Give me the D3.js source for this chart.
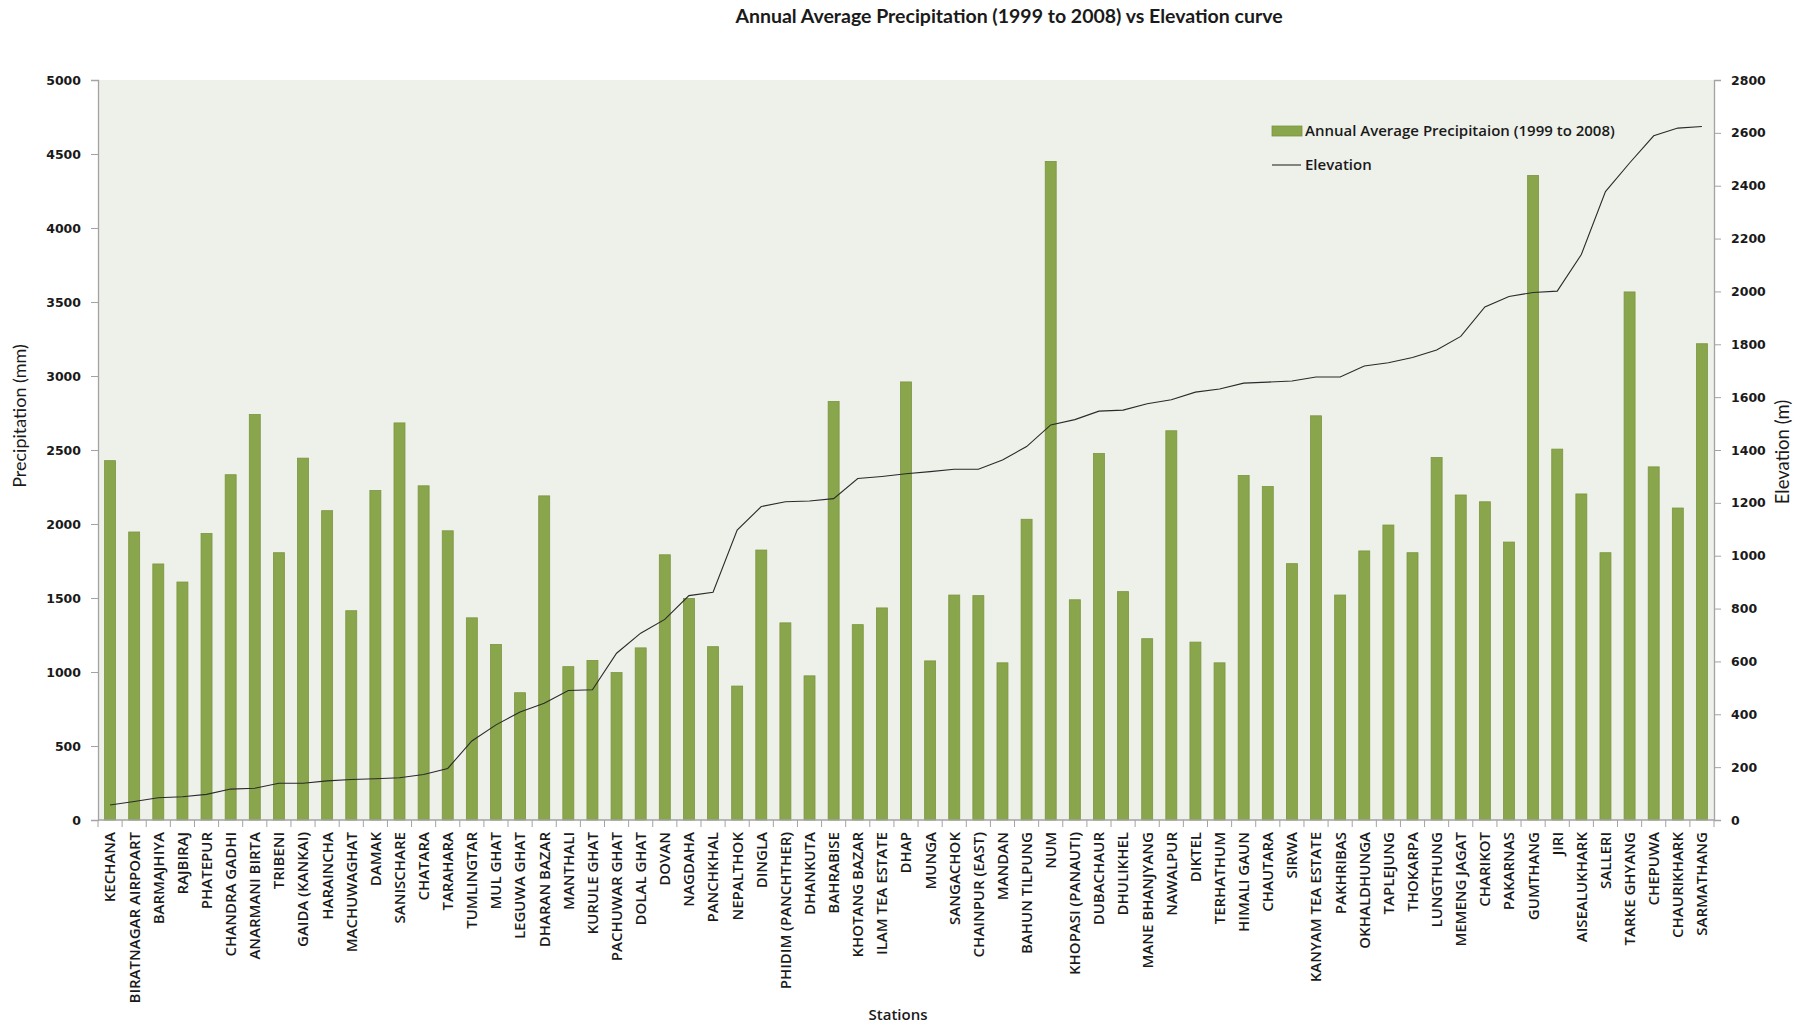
<!DOCTYPE html>
<html>
<head>
<meta charset="utf-8">
<script src="https://cdn.jsdelivr.net/npm/d3@7/dist/d3.min.js"></script>
<style>
  html, body { margin: 0; padding: 0; background: #ffffff; }
  svg { display: block; }
</style>
</head>
<body>
<svg id="chart" width="1806" height="1025"></svg>
<script>
// Stations ordered by elevation (low to high)
const stations = [
  "KECHANA", "BIRATNAGAR  AIRPOART", "BARMAJHIYA", "RAJBIRAJ", "PHATEPUR",
  "CHANDRA GADHI", "ANARMANI BIRTA", "TRIBENI", "GAIDA (KANKAI)", "HARAINCHA",
  "MACHUWAGHAT", "DAMAK", "SANISCHARE", "CHATARA", "TARAHARA",
  "TUMLINGTAR", "MUL GHAT", "LEGUWA GHAT", "DHARAN BAZAR", "MANTHALI",
  "KURULE GHAT", "PACHUWAR GHAT", "DOLAL GHAT", "DOVAN", "NAGDAHA",
  "PANCHKHAL", "NEPALTHOK", "DINGLA", "PHIDIM (PANCHTHER)", "DHANKUTA",
  "BAHRABISE", "KHOTANG BAZAR", "ILAM TEA ESTATE", "DHAP", "MUNGA",
  "SANGACHOK", "CHAINPUR (EAST)", "MANDAN", "BAHUN TILPUNG", "NUM",
  "KHOPASI (PANAUTI)", "DUBACHAUR", "DHULIKHEL", "MANE BHANJYANG", "NAWALPUR",
  "DIKTEL", "TERHATHUM", "HIMALI GAUN", "CHAUTARA", "SIRWA",
  "KANYAM TEA ESTATE", "PAKHRIBAS", "OKHALDHUNGA", "TAPLEJUNG", "THOKARPA",
  "LUNGTHUNG", "MEMENG JAGAT", "CHARIKOT", "PAKARNAS", "GUMTHANG",
  "JIRI", "AISEALUKHARK", "SALLERI", "TARKE GHYANG", "CHEPUWA",
  "CHAURIKHARK", "SARMATHANG"
];

// Annual average precipitation 1999-2008 (mm)
const precipitation = [
  2428, 1946, 1730, 1608, 1936,
  2333, 2740, 1806, 2445, 2090,
  1414, 2226, 2683, 2258, 1954,
  1366, 1186, 860, 2190, 1036,
  1078, 996, 1163, 1792, 1497,
  1171, 905, 1824, 1332, 974,
  2828, 1320, 1433, 2960, 1075,
  1520, 1516, 1062, 2032, 4450,
  1488, 2477, 1543, 1225, 2630,
  1202, 1062, 2328, 2253, 1732,
  2731, 1520, 1818, 1993, 1806,
  2449, 2196, 2150, 1878, 4355,
  2506, 2203, 1806, 3568, 2386,
  2108, 3218
];

// Station elevation (m)
const elevation = [
  57, 70, 84, 88, 97,
  117, 120, 139, 139, 148,
  153, 156, 160, 172, 195,
  299, 360, 409, 442, 490,
  493, 631, 707, 759, 849,
  862, 1097, 1186, 1204, 1207,
  1216, 1292, 1300, 1310, 1318,
  1327, 1327, 1362, 1413, 1495,
  1515, 1547, 1551, 1575, 1590,
  1619, 1631, 1653, 1657, 1661,
  1676, 1676, 1718, 1730, 1750,
  1778, 1830, 1941, 1981, 1996,
  2001, 2140, 2378, 2486, 2589,
  2618, 2624
];

const precipTicks = d3.range(0, 5001, 500);
const elevTicks = d3.range(0, 2801, 200);

const titleText = "Annual Average Precipitation (1999 to 2008) vs Elevation curve";
const precipLabel = "Annual Average Precipitaion (1999 to 2008)";
const elevLabel = "Elevation";

const svg = d3.select("#chart");
const plot = { left: 98, right: 1714, top: 80, bottom: 820 };

const x = d3.scaleBand()
  .domain(stations)
  .range([plot.left, plot.right])
  .paddingInner(0.545)
  .paddingOuter(0.2725);

const yP = d3.scaleLinear().domain([0, 5000]).range([plot.bottom, plot.top]);
const yE = d3.scaleLinear().domain([0, 2800]).range([plot.bottom, plot.top]);

const axisGrey = "#a3a3a3";
const textDark = "#1a1a1a";

// plot area background
svg.append("rect")
  .attr("x", plot.left).attr("y", plot.top)
  .attr("width", plot.right - plot.left)
  .attr("height", plot.bottom - plot.top)
  .attr("fill", "#eef1e9");

// precipitation bars
svg.append("g").selectAll("rect")
  .data(stations)
  .join("rect")
  .attr("x", d => x(d))
  .attr("y", (d, i) => yP(precipitation[i]))
  .attr("width", x.bandwidth())
  .attr("height", (d, i) => yP(0) - yP(precipitation[i]))
  .attr("fill", "#8aa64c")
  .attr("stroke", "#7b953f")
  .attr("stroke-width", 0.8);

// elevation curve
const line = d3.line()
  .x((d, i) => x(stations[i]) + x.bandwidth() / 2)
  .y(d => yE(d));

svg.append("path")
  .datum(elevation)
  .attr("d", line)
  .attr("fill", "none")
  .attr("stroke", "#2a2a2a")
  .attr("stroke-width", 1.1);

// left axis
const gL = svg.append("g")
  .attr("transform", `translate(${plot.left},0)`)
  .call(d3.axisLeft(yP).tickValues(precipTicks).tickSize(7).tickPadding(10).tickFormat(d3.format("d")));

// right axis
const gR = svg.append("g")
  .attr("transform", `translate(${plot.right},0)`)
  .call(d3.axisRight(yE).tickValues(elevTicks).tickSize(7).tickPadding(10).tickFormat(d3.format("d")));

[gL, gR].forEach(g => {
  g.select(".domain").attr("stroke", axisGrey).attr("stroke-width", 1.3);
  g.selectAll(".tick line").attr("stroke", axisGrey);
  g.selectAll(".tick text")
    .attr("fill", textDark)
    .style("font-family", "'DejaVu Sans', sans-serif")
    .style("font-weight", "bold")
    .style("font-size", "12.5px");
});

// category axis
const step = x.step();
const gX = svg.append("g").attr("class", "x-axis");
gX.append("line")
  .attr("x1", plot.left).attr("x2", plot.right)
  .attr("y1", plot.bottom).attr("y2", plot.bottom)
  .attr("stroke", axisGrey).attr("stroke-width", 1.3);

gX.selectAll("line.sep")
  .data(d3.range(stations.length + 1))
  .join("line")
  .attr("class", "sep")
  .attr("x1", k => plot.left + k * step)
  .attr("x2", k => plot.left + k * step)
  .attr("y1", plot.bottom)
  .attr("y2", plot.bottom + 7)
  .attr("stroke", axisGrey);

gX.selectAll("text")
  .data(stations)
  .join("text")
  .attr("transform", d => `translate(${x(d) + x.bandwidth() / 2},${plot.bottom + 12}) rotate(-90)`)
  .attr("text-anchor", "end")
  .attr("dy", "0.36em")
  .attr("fill", textDark)
  .style("font-family", "'Open Sans', sans-serif")
  .style("font-weight", "600")
  .style("font-size", "15px")
  .text(d => d);

// title
svg.append("text")
  .attr("x", 1009).attr("y", 23)
  .attr("text-anchor", "middle")
  .attr("fill", textDark)
  .style("font-family", "Lato, sans-serif")
  .style("font-weight", "bold")
  .style("font-size", "19.5px")
  .text(titleText);

// axis titles
svg.append("text")
  .attr("transform", "translate(26,416) rotate(-90)")
  .attr("text-anchor", "middle")
  .attr("fill", textDark)
  .style("font-family", "Lato, sans-serif")
  .style("font-size", "18px")
  .text("Precipitation (mm)");

svg.append("text")
  .attr("transform", "translate(1789,452) rotate(-90)")
  .attr("text-anchor", "middle")
  .attr("fill", textDark)
  .style("font-family", "Lato, sans-serif")
  .style("font-size", "18.5px")
  .text("Elevation (m)");

svg.append("text")
  .attr("x", 898).attr("y", 1020)
  .attr("text-anchor", "middle")
  .attr("fill", textDark)
  .style("font-family", "'Open Sans', sans-serif")
  .style("font-weight", "600")
  .style("font-size", "15px")
  .text("Stations");

// legend
const legend = svg.append("g").attr("transform", "translate(1272,0)");
legend.append("rect")
  .attr("x", 0).attr("y", 126)
  .attr("width", 30).attr("height", 10)
  .attr("fill", "#8aa64c").attr("stroke", "#7b953f").attr("stroke-width", 0.8);
legend.append("text")
  .attr("x", 33).attr("y", 131).attr("dy", "0.36em")
  .attr("fill", textDark)
  .style("font-family", "'Open Sans', sans-serif")
  .style("font-weight", "600")
  .style("font-size", "15px")
  .text(precipLabel);
legend.append("line")
  .attr("x1", 0).attr("x2", 29)
  .attr("y1", 165).attr("y2", 165)
  .attr("stroke", "#2a2a2a").attr("stroke-width", 1.1);
legend.append("text")
  .attr("x", 33).attr("y", 165).attr("dy", "0.36em")
  .attr("fill", textDark)
  .style("font-family", "'Open Sans', sans-serif")
  .style("font-weight", "600")
  .style("font-size", "15px")
  .text(elevLabel);
</script>
</body>
</html>
